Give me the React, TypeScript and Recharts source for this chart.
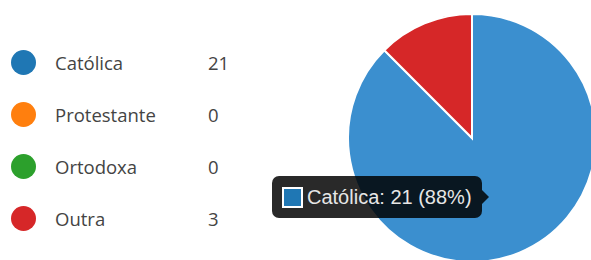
import { PieChart, Pie, Cell, Tooltip } from "recharts"

const FONT = "'Open Sans', sans-serif"

const categories = ["Católica", "Protestante", "Ortodoxa", "Outra"]
const counts = [21, 0, 0, 3]
const legendColors = ["#1f77b4", "#ff7f0e", "#2ca02c", "#d62728"]
const sliceColors = ["#3b8fcf", "#ff7f0e", "#2ca02c", "#d62728"]

const data = categories.map((name, i) => ({ name, value: counts[i] }))
const total = counts.reduce((a, b) => a + b, 0)

function LegendList() {
  return (
    <div style={{ position: "absolute", left: 11, top: 36, fontFamily: FONT, fontSize: 18.5, color: "#444" }}>
      {data.map((d, i) => (
        <div key={d.name} style={{ display: "flex", alignItems: "center", height: 52 }}>
          <div style={{ width: 25, height: 25, borderRadius: "50%", background: legendColors[i], marginRight: 19 }} />
          <span style={{ width: 153 }}>{d.name}</span>
          <span>{d.value}</span>
        </div>
      ))}
    </div>
  )
}

// eslint-disable-next-line @typescript-eslint/no-explicit-any
function TipBox({ active, payload }: any) {
  if (!active || !payload?.length) return null
  const p = payload[0]
  const idx = categories.indexOf(p.name)
  const pct = Math.round((p.value / total) * 100)
  return (
    <div style={{ position: "relative", background: "rgba(0,0,0,0.84)", borderRadius: 7, padding: "0 10px 0 10px",
      height: 42, display: "flex", alignItems: "center", fontFamily: "'Liberation Sans', Arial, sans-serif", fontSize: 20, color: "#e6e6e6", whiteSpace: "nowrap" }}>
      <div style={{ width: 17, height: 17, background: legendColors[idx], border: "2px solid #fff", marginRight: 4 }} />
      <span>{p.name}: {p.value} ({pct}%)</span>
      <div style={{ position: "absolute", right: -7, top: 14, width: 0, height: 0,
        borderTop: "7px solid transparent", borderBottom: "7px solid transparent", borderLeft: "7px solid rgba(0,0,0,0.84)" }} />
    </div>
  )
}

export default function App() {
  return (
    <div style={{ position: "absolute", left: 0, top: 0, width: 591, height: 260, background: "#fff", overflow: "hidden" }}>
      <PieChart width={591} height={260} margin={{ top: 0, right: 0, bottom: 0, left: 0 }}>
        <Pie data={data} dataKey="value" nameKey="name" cx={472} cy={138} outerRadius={124}
          startAngle={90} endAngle={-270} stroke="#fff" strokeWidth={2} isAnimationActive={false}>
          {data.map((d, i) => <Cell key={d.name} fill={sliceColors[i]} />)}
        </Pie>
        <Tooltip active defaultIndex={0} content={<TipBox />} position={{ x: 272, y: 176 }}
          wrapperStyle={{ transform: "translate(272px, 176px)", visibility: "visible" }} isAnimationActive={false} />
      </PieChart>
      <LegendList />
    </div>
  )
}
